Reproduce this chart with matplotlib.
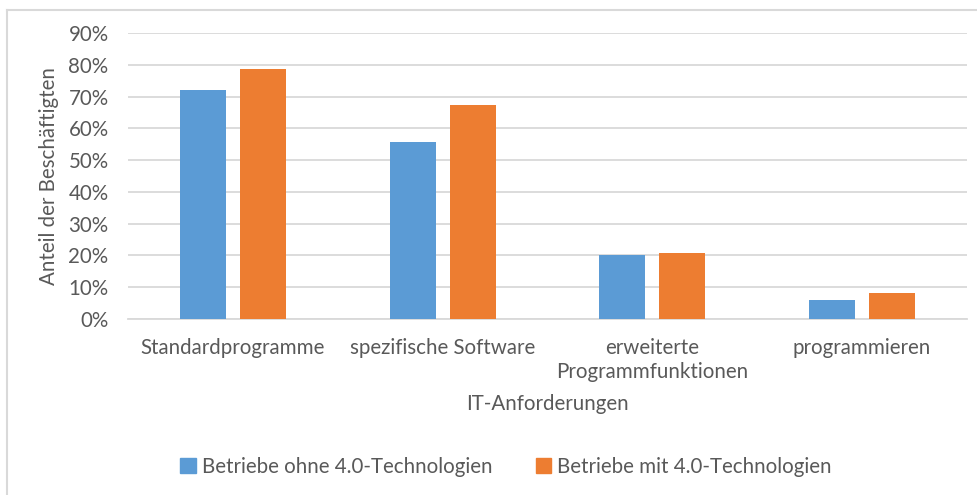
import matplotlib
matplotlib.use("Agg")
import matplotlib.pyplot as plt
import numpy as np
from matplotlib.lines import Line2D
from matplotlib.patches import Patch
from matplotlib.ticker import PercentFormatter

categories = ["Standardprogramme", "spezifische Software", "erweiterte\nProgrammfunktionen", "programmieren"]
ohne = [0.72, 0.557, 0.202, 0.059]
mit = [0.788, 0.674, 0.207, 0.083]
series_names = ["Betriebe ohne 4.0-Technologien", "Betriebe mit 4.0-Technologien"]
yticks = [0, 0.1, 0.2, 0.3, 0.4, 0.5, 0.6, 0.7, 0.8, 0.9]

plt.rcParams['font.family'] = ['Lato', 'DejaVu Sans']
TXT = '#595959'
BLUE = '#5B9BD5'
ORANGE = '#ED7D31'
GRID = '#D9D9D9'
FS = 14.8

W, H = 978, 495
fig = plt.figure(figsize=(W/100, H/100), dpi=100)
ax = fig.add_axes([128/W, 1-319/H, (967-128)/W, (319-33)/H])

x = np.arange(len(categories))
bw = 0.22
off = 0.143
ax.bar(x - off, ohne, width=bw, color=BLUE, zorder=3)
ax.bar(x + off, mit, width=bw, color=ORANGE, zorder=3)

ax.set_xlim(-0.5, len(categories) - 0.5)
ax.set_ylim(0, 0.9)
ax.set_yticks(yticks)
ax.yaxis.set_major_formatter(PercentFormatter(1.0, decimals=0))
ax.grid(axis='y', color=GRID, linewidth=1.3, zorder=0)
for s in ['top', 'right', 'left']:
    ax.spines[s].set_visible(False)
ax.spines['bottom'].set_color(GRID)
ax.spines['bottom'].set_linewidth(1.3)
ax.tick_params(axis='both', length=0, colors=TXT, labelsize=FS)
ax.tick_params(axis='y', pad=14)
ax.tick_params(axis='x', pad=14)
ax.set_xticks(x)
ax.set_xticklabels(categories, linespacing=1.25, va='top')

ax.set_ylabel("Anteil der Beschäftigten", color=TXT, fontsize=FS, labelpad=7)
ax.set_xlabel("IT-Anforderungen", color=TXT, fontsize=FS, labelpad=8)

# chart border (left and top)
fig.add_artist(Line2D([7.5/W, 7.5/W], [0, 1-9.5/H], color=GRID, linewidth=1.5, transform=fig.transFigure))
fig.add_artist(Line2D([7.5/W, 1], [1-9.5/H, 1-9.5/H], color=GRID, linewidth=1.5, transform=fig.transFigure))

handles = [Patch(color=BLUE), Patch(color=ORANGE)]
fig.legend(handles, series_names, loc='center', bbox_to_anchor=(506/W, 1-467/H),
           ncol=2, frameon=False, fontsize=FS, labelcolor=TXT,
           handlelength=0.75, handleheight=0.75, handletextpad=0.3, columnspacing=2.1)

fig.savefig("out.png", dpi=100, facecolor='white')
